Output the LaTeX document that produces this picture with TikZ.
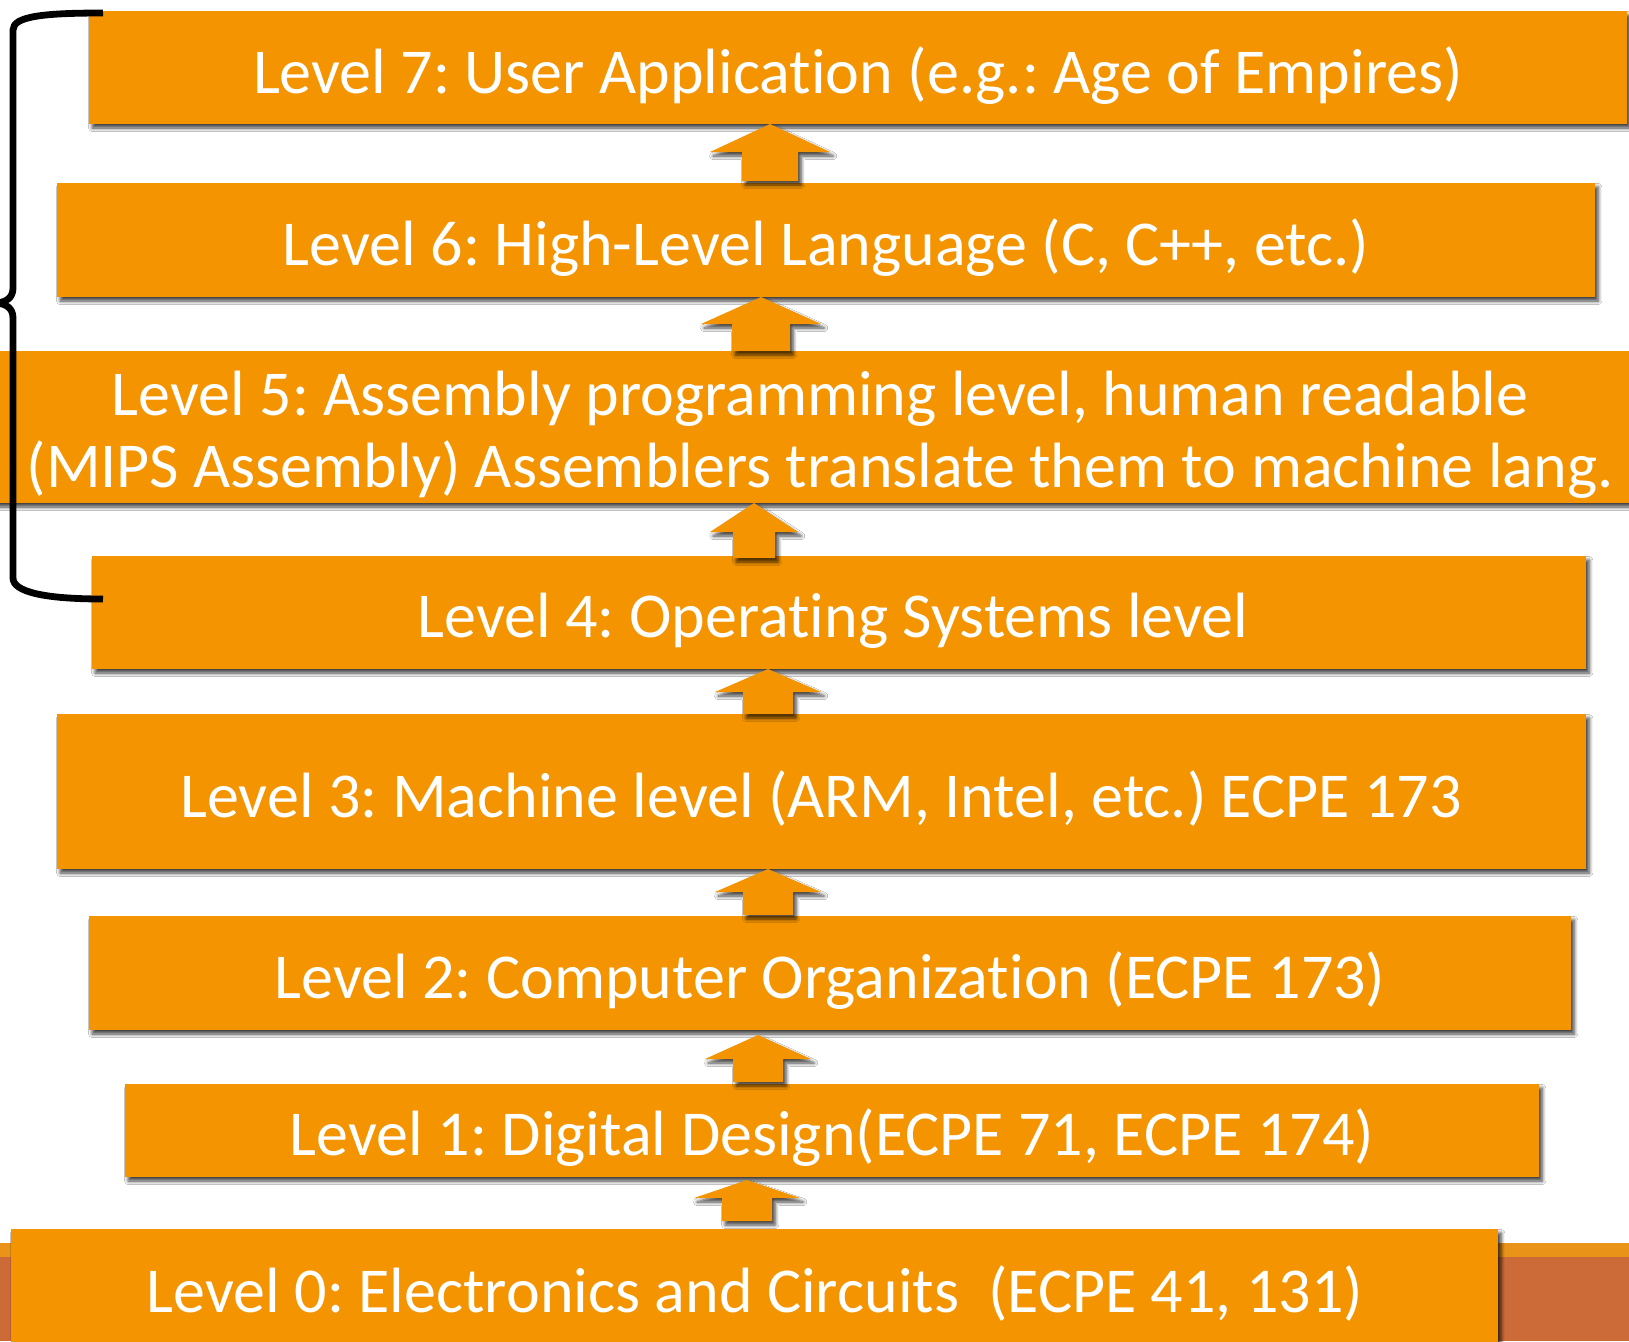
\documentclass[tikz,border=0pt]{standalone}
\usepackage{fontspec}
\setmainfont{Carlito}[Ligatures=NoCommon]
\usetikzlibrary{shadows.blur}
\frenchspacing

\definecolor{layerorange}{RGB}{243,148,0}
\definecolor{bandlight}{RGB}{233,147,25}
\definecolor{banddark}{RGB}{204,107,56}

\tikzset{
  softshadow/.style={blur shadow={shadow xshift=1.6pt, shadow yshift=-2pt,
      shadow opacity=75, shadow blur radius=1.8pt, shadow blur steps=6}},
  layer/.style={fill=layerorange, inner sep=0pt, outer sep=0pt,
      anchor=north west, softshadow},
  caption/.style={text=white, inner sep=0pt, anchor=base, align=center,
      font=\fontsize{32pt}{36pt}\selectfont},
  blockfill/.style={fill=layerorange, softshadow},
  % upward block arrow: tip at the origin, drawn downwards
  % #1 head half width, #2 shaft half width, #3 head height, #4 total length
  pics/layerarrow/.style args={#1/#2/#3/#4}{code={
    \fill[blockfill] (0,0) -- (#1,#3) -- (#2,#3) -- (#2,#4) -- (-#2,#4)
      -- (-#2,#3) -- (-#1,#3) -- cycle;}}
}

\begin{document}
\begin{tikzpicture}[x=0.5pt,y=-0.5pt]
  \fill[white] (0,0) rectangle (1629,1341);
  \useasboundingbox (0,0) rectangle (1629,1341);

  % footer band of the slide
  \fill[bandlight] (0,1243) rectangle (1629,1257);
  \fill[banddark]  (0,1257) rectangle (1629,1341);

  % the layers
  \node[layer, minimum width=769pt,   minimum height=56.5pt] (l7) at (89,11)   {};
  \node[layer, minimum width=769pt,   minimum height=57pt]   (l6) at (57,183)  {};
  \node[layer, minimum width=825pt,   minimum height=76pt]   (l5) at (-10,351) {};
  \node[layer, minimum width=747pt,   minimum height=56.5pt] (l4) at (92,556)  {};
  \node[layer, minimum width=764.5pt, minimum height=77.5pt] (l3) at (57,714)  {};
  \node[layer, minimum width=741pt,   minimum height=57pt]   (l2) at (89,916)  {};
  \node[layer, minimum width=707pt,   minimum height=46.5pt] (l1) at (125,1084) {};
  \node[layer, minimum width=743.5pt, minimum height=70pt]   (l0) at (11,1229) {};

  % arrows between neighbouring layers
  \coordinate (x76) at (770,0);
  \coordinate (x65) at (761,0);
  \coordinate (x54) at (754,0);
  \coordinate (x43) at (768,0);
  \coordinate (x32) at (768,0);
  \coordinate (x21) at (758,0);
  \coordinate (x10) at (747,0);
  \pic at (l7.south -| x76) {layerarrow={60/28/28/57}};
  \pic at (l6.south -| x65) {layerarrow={60/29/27/54}};
  \pic at (l5.south -| x54) {layerarrow={44/21/29/55}};
  \pic at (l4.south -| x43) {layerarrow={53/25/23/45}};
  \pic at (l3.south -| x32) {layerarrow={53/25/23/46}};
  \pic[yshift=-2.5pt] at (l2.south -| x21) {layerarrow={53/25/24/47}};
  \pic[yshift=-1.5pt] at (l1.south -| x10) {layerarrow={53/25/18/41}};

  % captions
  \node[caption] (t7) at (858,93)  {Level 7: User Application (e.g.: Age of Empires)};
  \node[caption] (t6) at (826,265) {Level 6: High-Level Language (C, C++, etc.)};
  \node[caption] (t5) at (820,487) {Level 5: Assembly programming level, human readable\\(MIPS Assembly) Assemblers translate them to machine lang.};
  \node[caption] (t4) at (833,637) {Level 4: Operating Systems level};
  \node[caption] (t3) at (821,817) {Level 3: Machine level (ARM, Intel, etc.) ECPE 173};
  \node[caption] (t2) at (830,998) {Level 2: Computer Organization (ECPE 173)};
  \node[caption] (t1) at (832,1155) {Level 1: Digital Design(ECPE 71, ECPE 174)};
  \node[caption] (t0) at (755,1312) {Level 0: Electronics and Circuits\ \ (ECPE 41, 131)};

  % curly brace grouping levels 4 to 7
  \draw[line width=3.4pt, line join=round]
    (103,13) .. controls (45,13) and (13,16) .. (13,30)
    -- (13,288)
    .. controls (13,298) and (6,302) .. (-3,303)
    .. controls (6,304) and (13,308) .. (13,318)
    -- (13,578)
    .. controls (13,592) and (45,599) .. (103,599);
\end{tikzpicture}
\end{document}
